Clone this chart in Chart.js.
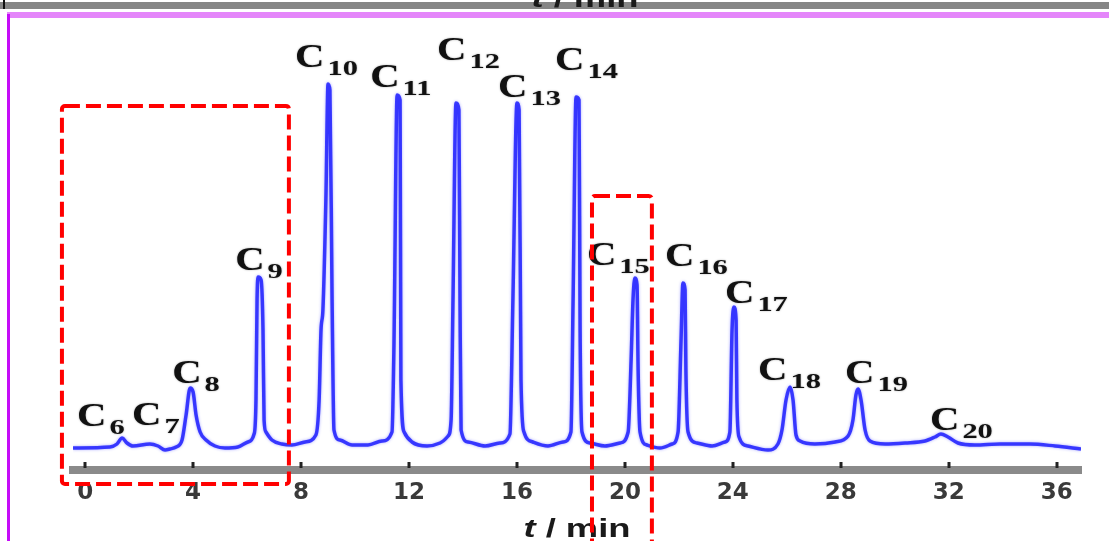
<!DOCTYPE html>
<html>
<head>
<meta charset="utf-8">
<script src="https://cdn.jsdelivr.net/npm/chart.js@4.4.1/dist/chart.umd.min.js"></script>
<style>
  html, body { margin: 0; padding: 0; background: #fff; }
  canvas { display: block; }
</style>
</head>
<body>
<canvas id="gcChart" width="1109" height="541"></canvas>
<script>
// chromatogram trace: retention time (min) and detector signal
const retentionTime = [-0.45, 0.92, 1.18, 1.37, 1.55, 1.77, 2.40, 2.70, 2.96, 3.14, 3.37, 3.59, 3.74, 3.89, 4.00, 4.11, 4.26, 4.48, 4.81, 5.18,
  5.66, 6.03, 6.26, 6.33, 6.37, 6.41, 6.52, 6.59, 6.63, 6.70, 6.92, 7.29, 7.66, 8.15, 8.55, 8.67, 8.74, 8.81, 8.92, 9.00,
  9.07, 9.15, 9.22, 9.44, 9.89, 10.48, 11.00, 11.37, 11.44, 11.56, 11.67, 11.70, 11.82, 12.11, 12.67, 13.15, 13.45, 13.56, 13.63, 13.74,
  13.85, 13.89, 13.93, 14.19, 14.82, 15.37, 15.74, 15.85, 16.00, 16.08, 16.15, 16.26, 16.59, 17.15, 17.71, 18.00, 18.08, 18.19, 18.30, 18.34,
  18.41, 18.71, 19.26, 19.82, 20.12, 20.23, 20.30, 20.37, 20.45, 20.49, 20.56, 20.82, 21.30, 21.75, 21.97, 22.08, 22.15, 22.23, 22.26, 22.34,
  22.67, 23.23, 23.71, 23.89, 23.97, 24.04, 24.12, 24.15, 24.23, 24.56, 25.30, 25.67, 25.82, 25.97, 26.12, 26.23, 26.34, 26.49, 27.04, 27.79,
  28.27, 28.45, 28.56, 28.64, 28.75, 28.90, 29.08, 29.64, 30.38, 31.12, 31.49, 31.71, 31.97, 32.34, 32.97, 33.90, 35.01, 35.94, 36.90];
const signal = [5.5, 5.75, 6.5, 8, 6.75, 6, 6.5, 6, 5, 5.25, 5.75, 7.5, 13.75, 20.5, 19.5, 13.75, 9.5, 7.5, 6, 5.5,
  5.75, 7, 9, 17.5, 42.5, 48.25, 47.5, 35, 12.5, 9.5, 7.5, 6.5, 6.25, 7, 8.75, 17.5, 35, 40, 67.5, 96.5,
  95, 42.5, 10, 7.5, 6.25, 6.25, 7.25, 9.5, 30, 93.75, 92.5, 22.5, 9.5, 7, 6, 6.75, 8.5, 12.5, 42.5, 91.75,
  90, 42.5, 10, 7, 6, 6.75, 9, 42.5, 91.75, 90, 22.5, 9.5, 7, 6, 7, 9.5, 42.5, 93.25, 92.5, 35,
  9.5, 6.75, 6, 6.75, 9.5, 27.5, 42.5, 48, 46.25, 25, 9.5, 6.25, 5.5, 6.5, 9.5, 32.5, 46.75, 45, 25, 9.5,
  6.75, 6, 7, 9.5, 35, 40.75, 37.5, 17.5, 8.25, 6, 5, 6.5, 10, 17.5, 20.75, 17.5, 8.75, 7.25, 6.5, 7,
  8.5, 12.5, 18.75, 20.25, 17.5, 10, 7.25, 6.5, 6.75, 7.25, 8.25, 9, 8.25, 6.75, 6.25, 6.5, 6.5, 6, 5.25];

// n-alkane peaks: carbon number and retention time of each maximum
const carbonNumber = [6, 7, 8, 9, 10, 11, 12, 13, 14, 15, 16, 17, 18, 19, 20];
const peakTime = [1.37, 2.40, 3.89, 6.41, 9.00, 11.56, 13.74, 16.00, 18.19, 20.37, 22.15, 24.04, 26.12, 28.64, 31.71];

const tickValues = [0, 4, 8, 12, 16, 20, 24, 28, 32, 36];

// where each "Cn" label sits relative to its peak top, in px
const labelOffsets = [[-45, -12], [-18, -19], [-18, -5], [-23, -7], [-33, -17], [-27, -8], [-19, -43], [-19, -6],
  [-21, -27], [-48, -13], [-18, -17], [-9, -4], [-32, -7], [-13, -6], [-11, -4]];

// dashed frames over the trace, in axis units
const highlightBoxes = [
  { from: -0.86, to: 7.55, top: 91, bottom: -3.5 },
  { from: 18.78, to: 21.0, top: 68.5, bottom: -22.5 }
];

function drawAxisTitle(ctx, cx, y) {
  const sx = 1.4;
  ctx.save();
  ctx.fillStyle = '#1a1a1a';
  ctx.textBaseline = 'alphabetic';
  ctx.font = 'italic bold 26px "Liberation Sans"';
  const tW = ctx.measureText('t').width;
  ctx.font = 'bold 26px "Liberation Sans"';
  const restW = ctx.measureText(' / min').width;
  ctx.translate(cx - (tW + restW) * sx / 2, y);
  ctx.scale(sx, 1);
  ctx.font = 'italic bold 26px "Liberation Sans"';
  ctx.fillText('t', 0, 0);
  ctx.font = 'bold 26px "Liberation Sans"';
  ctx.fillText(' / min', tW, 0);
  ctx.restore();
}

const decorPlugin = {
  id: 'decor',
  beforeDraw(chart) {
    const ctx = chart.ctx;
    ctx.save();
    ctx.fillStyle = '#fff';
    ctx.fillRect(0, 0, chart.width, chart.height);
    // bottom edge of the panel above
    ctx.fillStyle = '#868686';
    ctx.fillRect(0, 2, chart.width, 7);
    ctx.fillStyle = '#111';
    ctx.fillRect(3, 0, 2, 9);
    drawAxisTitle(ctx, 585, 7);
    // frame of this panel
    ctx.fillStyle = '#e486fa';
    ctx.fillRect(7, 12, chart.width - 7, 6);
    ctx.fillStyle = '#c60cf8';
    ctx.fillRect(7, 14, 3, chart.height - 14);
    ctx.restore();
  },
  beforeDatasetsDraw(chart) {
    const ctx = chart.ctx;
    ctx.save();
    ctx.shadowColor = 'rgba(70, 70, 255, 0.55)';
    ctx.shadowBlur = 3;
  },
  afterDatasetsDraw(chart) {
    chart.ctx.restore();
  },
  afterDraw(chart) {
    const ctx = chart.ctx;
    const x = chart.scales.x;
    const y = chart.scales.y;
    const area = chart.chartArea;

    // tick marks sit on top of the axis bar
    ctx.save();
    ctx.fillStyle = '#222';
    tickValues.forEach(v => {
      ctx.fillRect(Math.round(x.getPixelForValue(v)) - 1.5, area.bottom - 8, 3, 6);
    });
    ctx.restore();

    drawAxisTitle(ctx, (area.left + area.right) / 2, 537);

    // peak labels C6 ... C20
    ctx.save();
    ctx.fillStyle = '#111';
    ctx.shadowColor = 'rgba(0, 0, 0, 0.35)';
    ctx.shadowBlur = 2;
    ctx.textBaseline = 'alphabetic';
    carbonNumber.forEach((n, i) => {
      const t = peakTime[i];
      const px = x.getPixelForValue(t);
      const py = y.getPixelForValue(signal[retentionTime.indexOf(t)]);
      const lx = px + labelOffsets[i][0];
      const ly = py + labelOffsets[i][1];
      ctx.save();
      ctx.translate(lx, ly);
      ctx.scale(1.2, 1);
      ctx.font = 'bold 34px "Liberation Serif"';
      ctx.fillText('C', 0, 0);
      const cw = ctx.measureText('C').width * 1.2;
      ctx.restore();
      ctx.save();
      ctx.translate(lx + cw + 3, ly + 8);
      ctx.scale(1.45, 1);
      ctx.font = 'bold 21px "Liberation Serif"';
      ctx.fillText(String(n), 0, 0);
      ctx.restore();
    });
    ctx.restore();

    // red dashed frames
    ctx.save();
    ctx.strokeStyle = '#ff0000';
    ctx.lineWidth = 4;
    ctx.setLineDash([15, 6]);
    highlightBoxes.forEach(b => {
      const x0 = x.getPixelForValue(b.from);
      const x1 = x.getPixelForValue(b.to);
      const y0 = y.getPixelForValue(b.top);
      const y1 = y.getPixelForValue(b.bottom);
      ctx.beginPath();
      ctx.roundRect(x0, y0, x1 - x0, y1 - y0, 3);
      ctx.stroke();
    });
    ctx.restore();
  }
};

new Chart(document.getElementById('gcChart'), {
  type: 'line',
  data: {
    datasets: [{
      data: retentionTime.map((t, i) => ({ x: t, y: signal[i] })),
      borderColor: 'rgba(30, 30, 255, 0.85)',
      borderWidth: 3.5,
      pointRadius: 0,
      cubicInterpolationMode: 'monotone',
      fill: false
    }]
  },
  options: {
    responsive: false,
    animation: false,
    layout: { padding: { left: 73, right: 28, top: 70, bottom: 0 } },
    plugins: {
      legend: { display: false },
      tooltip: { enabled: false }
    },
    scales: {
      x: {
        type: 'linear',
        min: -0.45,
        max: 36.9,
        afterBuildTicks: axis => { axis.ticks = tickValues.map(v => ({ value: v })); },
        afterFit: axis => { axis.height = 71; },
        grid: { display: false, drawTicks: false },
        border: { display: true, color: '#8a8a8a', width: 8 },
        ticks: {
          color: '#3a3a3a',
          font: { family: 'DejaVu Sans', weight: 'bold', size: 23 },
          padding: 9,
          maxRotation: 0,
          autoSkip: false
        }
      },
      y: { display: false, min: 0, max: 100 }
    }
  },
  plugins: [decorPlugin]
});
</script>
</body>
</html>
